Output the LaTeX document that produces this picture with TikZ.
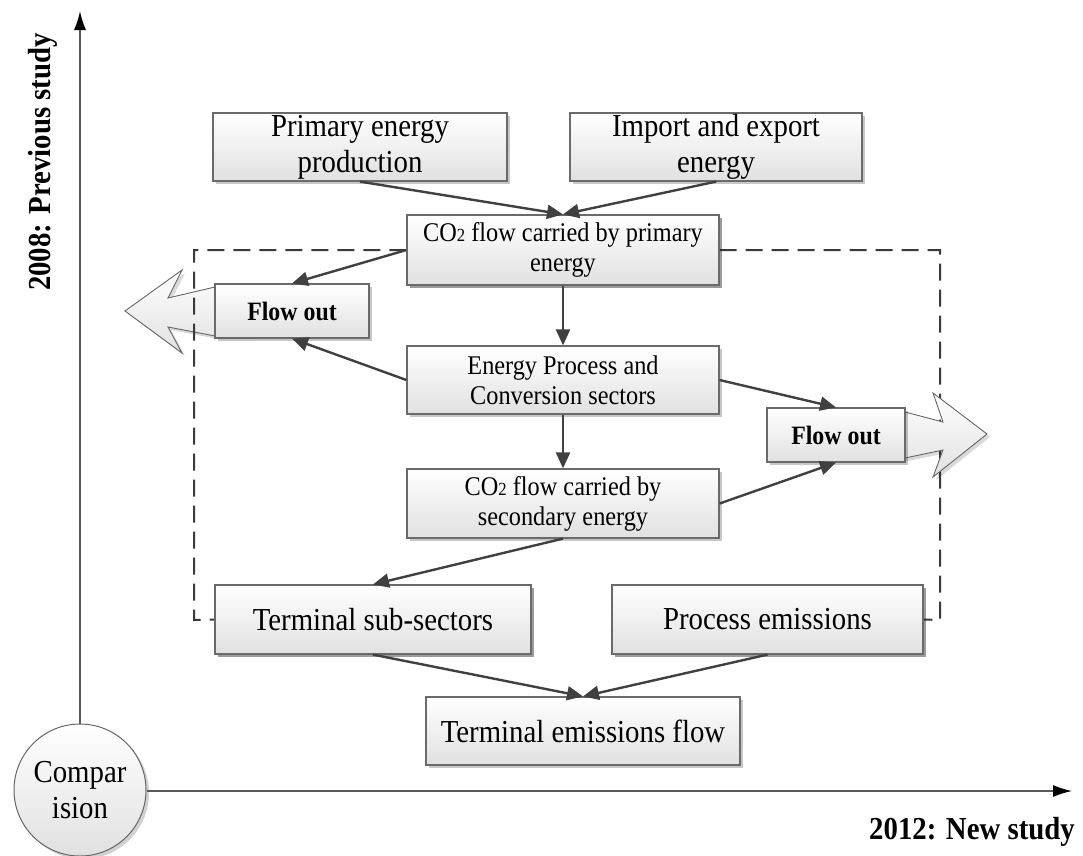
\documentclass[tikz,border=0pt]{standalone}
\usepackage{fontspec}
\setmainfont[FakeStretch=0.9]{Liberation Serif}
\usetikzlibrary{arrows.meta,shadows}
\definecolor{boxborder}{HTML}{6A6A6A}
\definecolor{arrowcol}{HTML}{404040}
\definecolor{dashcol}{HTML}{3A3A3A}
\tikzset{
  bigfont/.style={font=\fontsize{32}{36}\selectfont},
  midfont/.style={font=\fontsize{27}{30}\selectfont},
  outfont/.style={font=\fontsize{26.5}{30}\selectfont\bfseries},
  labfont/.style={font=\fontsize{32}{36}\selectfont\bfseries},
  boxstyle/.style={draw=boxborder, line width=1.2pt, top color=white, bottom color=black!12,
    drop shadow={shadow xshift=3pt, shadow yshift=-3pt, fill=black, opacity=0.22},
    align=center, inner sep=0pt, rectangle},
  flowarrow/.style={draw=arrowcol, line width=2.4pt, -{Triangle[length=16pt,width=14pt]}},
  dashline/.style={draw=dashcol, line width=2pt, dash pattern=on 17pt off 9pt},
  axisline/.style={draw=black!65, line width=1.4pt, -{Latex[length=19pt,width=12pt,color=black]}},
  bigarrow/.style={draw=black!60, line width=0.9pt, top color=white, bottom color=black!12,
    drop shadow={shadow xshift=3pt, shadow yshift=-3pt, fill=black, opacity=0.15}},
}
\newcommand{\cotwo}{CO{\fontsize{18.5}{18.5}\selectfont 2}}
\begin{document}
\begin{tikzpicture}[x=1pt, y=-1pt]
\useasboundingbox (0,0) rectangle (1083,855);

% big hollow arrow on the left (behind)
\draw[bigarrow] (250,287) -- (215,287) -- (168,298) -- (182,270) -- (125,311) -- (182,353) -- (168,327) -- (215,336) -- (250,336) -- cycle;

% boxes that the dashed frame joins
\node[boxstyle, midfont, minimum width=312pt, minimum height=70pt] (co2p) at (563,250) {\cotwo{} flow carried by primary\\energy};
\node[boxstyle, bigfont, minimum width=316pt, minimum height=69pt] (tss) at (373,619.5) {Terminal sub-sectors};
\node[boxstyle, bigfont, minimum width=311pt, minimum height=69pt] (pe) at (767.5,619.5) {Process emissions};
\draw[dashline] (co2p.west) -| (194,620) -- (tss.west);
\draw[dashline] (co2p.east) -| (940,620) -- (pe.east);

% big hollow arrow on the right
\draw[bigarrow] (880,412) -- (905,412) -- (943,422) -- (933,393) -- (987,434) -- (933,477) -- (943,450) -- (905,458) -- (880,458) -- cycle;

% redraw boxes on top of the dashed lines
\node[boxstyle, midfont, minimum width=312pt, minimum height=70pt] at (co2p) {\cotwo{} flow carried by primary\\energy};
\node[boxstyle, bigfont, minimum width=316pt, minimum height=69pt] at (tss) {Terminal sub-sectors};
\node[boxstyle, bigfont, minimum width=311pt, minimum height=69pt] at (pe) {Process emissions};

\node[boxstyle, bigfont, minimum width=294pt, minimum height=68pt] (prim) at (360,147) {Primary energy\\production};
\node[boxstyle, bigfont, minimum width=292pt, minimum height=68pt] (imp) at (716,147) {Import and export\\energy};
\node[boxstyle, outfont, minimum width=154pt, minimum height=54pt] (fol) at (292,311) {Flow out};
\node[boxstyle, midfont, minimum width=312pt, minimum height=68pt] (epc) at (563,380) {Energy Process and\\Conversion sectors};
\node[boxstyle, outfont, minimum width=138pt, minimum height=54pt] (forr) at (836,435) {Flow out};
\node[boxstyle, midfont, minimum width=312pt, minimum height=69pt] (co2s) at (563,503.5) {\cotwo{} flow carried by\\secondary energy};
\node[boxstyle, bigfont, minimum width=314pt, minimum height=68pt] (tef) at (583,731) {Terminal emissions flow};

% connectors
\draw[flowarrow] (prim.south) -- (co2p.north);
\draw[flowarrow] (imp.south) -- (co2p.north);
\draw[flowarrow] (co2p.west) -- (fol.north);
\draw[flowarrow] (co2p.south) -- (epc.north);
\draw[flowarrow] (epc.west) -- (fol.south);
\draw[flowarrow] (epc.east) -- (forr.north);
\draw[flowarrow] (epc.south) -- (co2s.north);
\draw[flowarrow] (co2s.east) -- (forr.south);
\draw[flowarrow] (co2s.south) -- (tss.north);
\draw[flowarrow] (tss.south) -- (tef.north);
\draw[flowarrow] (pe.south) -- (tef.north);

% axes
\node[circle, draw=black!60, line width=1pt, top color=white, bottom color=black!12,
  drop shadow={shadow xshift=3pt, shadow yshift=-3pt, fill=black, opacity=0.18},
  minimum size=132pt, inner sep=0pt, align=center, bigfont] (cmp) at (80,790) {Compar\\ision};
\coordinate (ytop) at (80,11);
\coordinate (xend) at (1072,791);
\draw[axisline] (cmp.north) -- (ytop);
\draw[axisline] (cmp.east |- xend) -- (xend);
\node[labfont, rotate=90] (ylab) at (43,162) {2008: Previous study};
\node[labfont] (xlab) at (972,832) {2012: New study};
\end{tikzpicture}
\end{document}
